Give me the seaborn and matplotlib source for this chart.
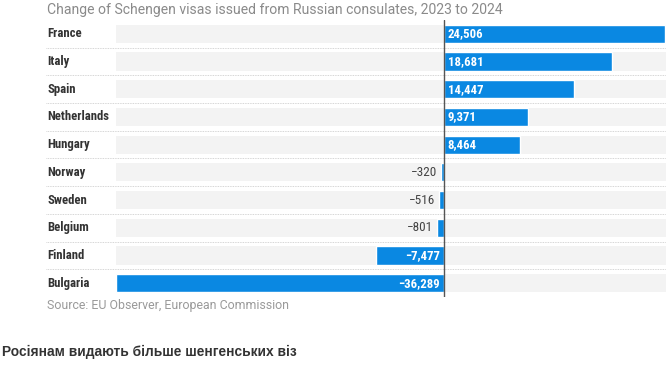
import pandas as pd
import seaborn as sns
import matplotlib.pyplot as plt

# Données
countries = ['France', 'Italy', 'Spain', 'Netherlands', 'Hungary',
             'Norway', 'Sweden', 'Belgium', 'Finland', 'Bulgaria']
changes = [24506, 18681, 14447, 9371, 8464, -320, -516, -801, -7477, -36289]

title = 'Change of Schengen visas issued from Russian consulates, 2023 to 2024'
source = 'Source: EU Observer, European Commission'
caption = 'Росіянам видають більше шенгенських віз'

df = pd.DataFrame({'country': countries, 'change': changes})

sns.set_style('white')
plt.rcParams['font.family'] = ['DejaVu Sans']

blue = '#0a88e2'
cond = ['Roboto Condensed', 'Archivo Narrow', 'DejaVu Sans']
sans = ['Roboto', 'DejaVu Sans']

fig = plt.figure(figsize=(6.67, 3.67), dpi=100)
ax = fig.add_axes([116 / 667, 1 - 297 / 367, 550 / 667, 277 / 367])

# bandes grises de fond
for i in range(len(countries)):
    ax.axhspan(i - 0.33, i + 0.33, color='#f3f3f3', zorder=0, lw=0)

sns.barplot(data=df, x='change', y='country', orient='h', color=blue,
            width=0.66, saturation=1, ax=ax, zorder=2)

xmin, xmax = min(changes), max(changes)
ax.set_xlim(xmin, xmax + 100)
ax.set_ylim(len(countries) - 0.5, -0.5)
ax.axvline(0, color='#555555', lw=1, zorder=3)

for s in ax.spines.values():
    s.set_visible(False)
ax.set_xticks([])
ax.set_yticks([])
ax.set_xlabel('')
ax.set_ylabel('')

# séparateurs pointillés
for i in range(len(countries) - 1):
    ax.plot([-0.127, 1.0], [i + 0.5, i + 0.5], transform=ax.get_yaxis_transform(),
            color='#c8c8c8', lw=0.6, ls=(0, (1, 1)), clip_on=False, zorder=1)

lab_kw = dict(fontsize=9.2, fontweight='bold', family=cond)

# étiquettes pays
for i, c in enumerate(countries):
    ax.text(-0.125, i, c, transform=ax.get_yaxis_transform(), ha='left', va='center',
            color='#333333', **lab_kw)

# valeurs
span = xmax - xmin
for i, v in enumerate(changes):
    lab = f'{abs(v):,}'
    if v < 0:
        lab = '\u2212' + lab
    if v > 0:
        ax.text(span * 0.007, i, lab, ha='left', va='center', color='white', zorder=4, **lab_kw)
    elif abs(v) > 5000:
        ax.text(-span * 0.007, i, lab, ha='right', va='center', color='white', zorder=4, **lab_kw)
    else:
        ax.text(v - span * 0.007, i, lab, ha='right', va='center', color='#444444',
                fontsize=9.5, family=cond, zorder=4)

fig.text(47 / 667, 1 - 10 / 367, title, ha='left', va='center', fontsize=10.1,
         color='#8a8a8a', family=sans)
fig.text(47 / 667, 1 - 306 / 367, source, ha='left', va='center', fontsize=8.9,
         color='#9a9a9a', family=sans)
fig.text(2 / 667, 1 - 352 / 367, caption, ha='left', va='center', fontsize=9.9,
         fontweight='bold', color='#333333', family='Liberation Sans')

fig.savefig('out.png', dpi=100)
